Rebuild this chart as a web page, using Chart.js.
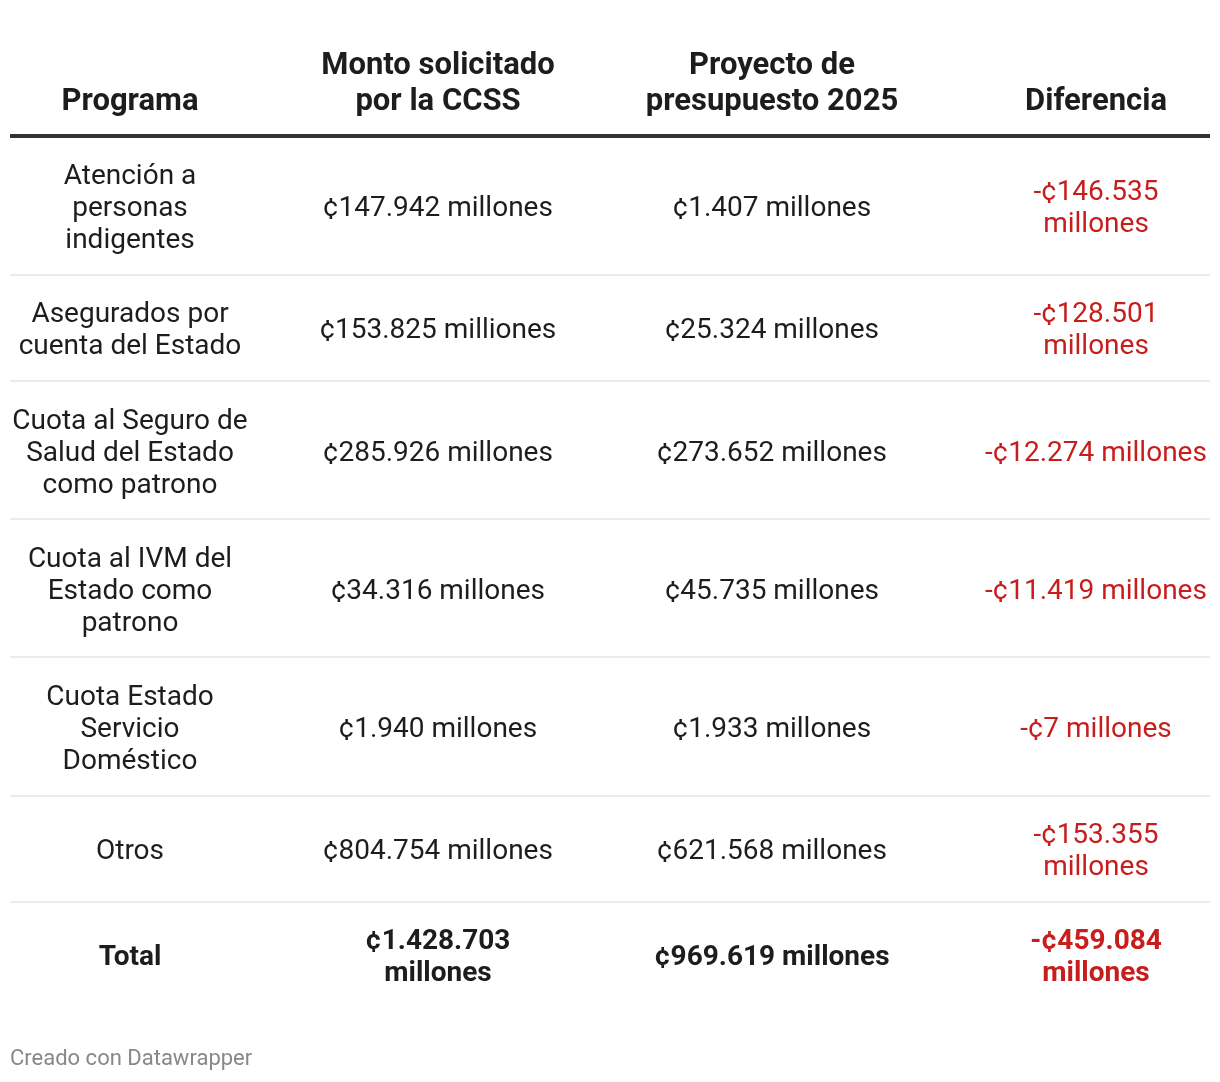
<!DOCTYPE html>
<html lang="es">
<head>
<meta charset="utf-8">
<title>Presupuesto CCSS 2025</title>
<script src="https://cdn.jsdelivr.net/npm/chart.js@4.4.1/dist/chart.umd.min.js"></script>
<style>
  html, body { margin: 0; padding: 0; background: #fff; }
  #wrap { width: 1220px; height: 1082px; }
</style>
</head>
<body>
<div id="wrap"><canvas id="tabla" width="1220" height="1082"></canvas></div>
<script>
/* tabla CCSS - monto solicitado vs proyecto de presupuesto 2025 */

const encabezados = ['Programa', 'Monto solicitado por la CCSS', 'Proyecto de presupuesto 2025', 'Diferencia'];

const programas = [
  'Atención a personas indigentes',
  'Asegurados por cuenta del Estado',
  'Cuota al Seguro de Salud del Estado como patrono',
  'Cuota al IVM del Estado como patrono',
  'Cuota Estado Servicio Doméstico',
  'Otros',
  'Total'
];

const montoSolicitado = ['¢147.942 millones', '¢153.825 milliones', '¢285.926 millones', '¢34.316 millones', '¢1.940 millones', '¢804.754 millones', '¢1.428.703 millones'];
const proyecto2025 = ['¢1.407 millones', '¢25.324 millones', '¢273.652 millones', '¢45.735 millones', '¢1.933 millones', '¢621.568 millones', '¢969.619 millones'];
const diferencia = ['-¢146.535 millones', '-¢128.501 millones', '-¢12.274 millones', '-¢11.419 millones', '-¢7 millones', '-¢153.355 millones', '-¢459.084 millones'];

const fuente = 'Creado con Datawrapper';

// layout (pixels on a 1:1 scale)
const colCenter = [130, 438, 772, 1096];
const colMax = [240, 246, 262, 228];
const FONT = 'Roboto, "Noto Sans", sans-serif';

function wrap(ctx, text, maxW) {
  const words = text.split(' ');
  const lines = [];
  let cur = '';
  words.forEach(w => {
    const test = cur ? cur + ' ' + w : w;
    if (cur && ctx.measureText(test).width > maxW) {
      lines.push(cur);
      cur = w;
    } else {
      cur = test;
    }
  });
  if (cur) lines.push(cur);
  return lines;
}

const tablePlugin = {
  id: 'tablePlugin',
  afterDraw(chart) {
    const ctx = chart.ctx;
    const xs = chart.scales.x;
    const ys = chart.scales.y;
    const X = v => xs.getPixelForValue(v);
    const Y = v => ys.getPixelForValue(v);

    ctx.save();
    ctx.textAlign = 'center';
    ctx.textBaseline = 'middle';

    // header
    const headTop = 136.5;
    ctx.font = 'bold 31px ' + FONT;
    ctx.fillStyle = '#1d1d1d';
    encabezados.forEach((h, c) => {
      const lines = wrap(ctx, h, colMax[c]);
      lines.forEach((ln, i) => {
        const yv = headTop - 34.5 - (lines.length - 1 - i) * 36;
        ctx.fillText(ln, X(colCenter[c]), Y(yv));
      });
    });

    ctx.fillStyle = '#333';
    ctx.fillRect(X(10), Y(134), X(1210) - X(10), 4);

    // body rows
    let top = headTop;
    programas.forEach((p, r) => {
      const isTotal = r === programas.length - 1;
      ctx.font = (isTotal ? 'bold ' : '') + '28px ' + FONT;
      const cells = [p, montoSolicitado[r], proyecto2025[r], diferencia[r]];
      const wrapped = cells.map((t, c) => wrap(ctx, t, colMax[c]));
      const n = Math.max(...wrapped.map(l => l.length));
      const h = n * 32 + 42.2;
      const mid = top + h / 2 + 3.5;

      wrapped.forEach((lines, c) => {
        ctx.fillStyle = c === 3 ? '#c71e1d' : '#1d1d1d';
        lines.forEach((ln, i) => {
          const yv = mid + (i - (lines.length - 1) / 2) * 32;
          ctx.fillText(ln, X(colCenter[c]), Y(yv));
        });
      });

      top += h;
      if (!isTotal) {
        ctx.fillStyle = '#ececec';
        ctx.fillRect(X(10), Y(Math.round(top) - 1), X(1210) - X(10), 2);
      }
    });

    // footer
    ctx.textAlign = 'left';
    ctx.font = '22px ' + FONT;
    ctx.fillStyle = '#888';
    ctx.fillText(fuente, X(10), Y(1059));
    ctx.restore();
  }
};

function build() {
  new Chart(document.getElementById('tabla'), {
    type: 'scatter',
    data: { datasets: [{ data: [], pointRadius: 0 }] },
    options: {
      responsive: false,
      animation: false,
      events: [],
      layout: { padding: 0 },
      plugins: { legend: { display: false }, tooltip: { enabled: false } },
      scales: {
        x: { type: 'linear', min: 0, max: 1220, display: false },
        y: { type: 'linear', min: 0, max: 1082, reverse: true, display: false }
      }
    },
    plugins: [tablePlugin]
  });
}

if (document.fonts && document.fonts.load) {
  Promise.all([
    document.fonts.load('28px Roboto'),
    document.fonts.load('bold 28px Roboto')
  ]).then(build, build);
} else {
  build();
}
</script>
</body>
</html>
